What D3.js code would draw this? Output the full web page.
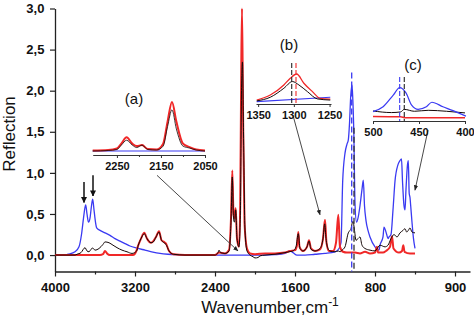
<!DOCTYPE html>
<html><head><meta charset="utf-8">
<script src="https://cdn.jsdelivr.net/npm/d3@7"></script>
<style>
body{margin:0;background:#fff;}
svg{display:block;font-family:"Liberation Sans",Arial,sans-serif;}
</style></head>
<body><svg id="c" width="474" height="321"></svg>
<script>
// ---------- data: main spectra (wavenumber, reflection) ----------
const blueWn  = [4000,3900,3870,3800,3760,3735,3715,3700,3693,3680,3665,3650,3635,3623,3610,3595,3583,3550,3500,3450,3400,3350,3300,3250,3183,3100,3033,2950,2870,2800,2500,2400,2300,2200,2100,2000,1900,1800,1700,1650,1620,1580,1500,1400,1300,1200,1160,1140,1123,1100,1080,1067,1055,1043,1030,1022,1012,1000,985,970,950,930,917,905,890,870,850,800,760,750,720,710,695,683,670,660,640,620,600,570,550,535,525,510,500,490,475,467,458,450,443,430,415,400];
const blueVal = [0,0,0.01,0.04,0.1,0.25,0.45,0.58,0.61,0.5,0.4,0.45,0.6,0.68,0.55,0.4,0.33,0.3,0.27,0.24,0.2,0.17,0.14,0.11,0.085,0.06,0.04,0.02,0.01,0.005,0,0,0,0,0,0,0,0.005,0.02,0.05,0.03,0,0,0.01,0.02,0.04,0.08,0.15,0.9,1.24,1.35,1.4,1.6,1.93,2.07,1.9,1.5,0.63,0.4,0.45,0.6,0.8,0.91,0.6,0.42,0.3,0.22,0.1,0.06,0.12,0.22,0.34,0.3,0.25,0.2,0.22,0.25,0.55,0.9,1.1,1.15,1.17,0.9,0.6,0.55,0.8,1.1,1.15,0.75,0.7,0.6,0.4,0.2,0.08];

const blackWn  = [4000,3800,3780,3740,3700,3680,3660,3640,3623,3600,3560,3520,3500,3460,3420,3380,3330,3280,3230,3183,3167,3140,3107,3080,3040,3017,2990,2960,2935,2910,2890,2860,2817,2700,2400,2370,2360,2345,2300,2260,2240,2227,2215,2205,2193,2180,2160,2145,2135,2125,2115,2100,2080,2050,2020,2000,1970,1950,1900,1800,1700,1660,1620,1590,1567,1550,1520,1480,1460,1440,1400,1350,1320,1303,1290,1270,1250,1200,1167,1150,1130,1100,1067,1050,1040,1030,1020,1005,990,970,950,930,900,850,800,750,700,670,640,610,580,550,520,500,483,467,450,430,400];
const blackVal = [0,0,0.01,0.03,0.09,0.05,0.04,0.07,0.085,0.06,0.08,0.13,0.16,0.15,0.12,0.09,0.06,0.04,0.02,0.05,0.12,0.2,0.26,0.2,0.15,0.16,0.22,0.28,0.18,0.15,0.13,0.05,0.01,0,0,0.03,0.06,0.03,0.02,0.05,0.4,0.95,0.45,0.4,0.55,0.2,0.1,0.6,2.0,2.35,1.5,0.3,0.05,0,-0.02,-0.035,-0.03,-0.01,0,0.01,0.03,0.04,0.05,0.1,0.26,0.08,0.05,0.1,0.17,0.07,0.05,0.08,0.2,0.38,0.2,0.08,0.05,0.04,0.05,0.04,0.06,0.1,0.27,0.3,0.32,0.38,0.41,0.3,0.18,0.2,0.22,0.12,0.08,0.06,0.05,0.12,0.1,0.12,0.2,0.25,0.22,0.27,0.3,0.32,0.28,0.3,0.33,0.28,0.27];

const redWn  = [4000,3550,3520,3500,3480,3450,3220,3190,3167,3140,3107,3080,3040,3017,2990,2960,2935,2910,2890,2860,2817,2700,2400,2360,2300,2260,2240,2227,2215,2205,2193,2180,2160,2148,2138,2130,2120,2105,2080,2050,2000,1900,1800,1700,1650,1600,1580,1567,1555,1520,1480,1460,1440,1400,1350,1320,1300,1285,1260,1220,1190,1167,1150,1120,1080,1000,950,900,850,800,780,770,720,690,650,630,615,560,530,517,505,450,400];
const redVal = [0,0,0.01,0.05,0.02,0,0,0.04,0.12,0.2,0.27,0.2,0.15,0.17,0.22,0.29,0.18,0.16,0.14,0.05,0.01,0,0,0.03,0.02,0.06,0.45,1.03,0.5,0.45,0.57,0.2,0.1,0.6,2.2,3.0,1.8,0.4,0.08,0.02,0.01,0.02,0.02,0.03,0.05,0.06,0.12,0.28,0.1,0.05,0.1,0.18,0.08,0.05,0.07,0.2,0.43,0.15,0.05,0.05,0.15,0.49,0.1,0.04,0.03,0.03,0.02,0.04,0.02,0.03,0.1,0.03,0.03,0.05,0.1,0.23,0.08,0.03,0.05,0.12,0.04,0.02,0.02];

// ---------- inset data (relative intensity) ----------
const insAWn   = [2305,2270,2250,2240,2228,2215,2205,2193,2180,2160,2145,2135,2125,2115,2100,2085,2070,2050];
const insARed  = [0.01,0.02,0.05,0.15,0.28,0.15,0.1,0.12,0.04,0.03,0.15,0.6,1.0,0.6,0.15,0.08,0.03,0.01];
const insABlack= [0,0.01,0.03,0.12,0.22,0.12,0.07,0.12,0.03,0.02,0.1,0.5,0.84,0.45,0.1,0.06,0.02,0];
const insABlue = [0,0,0,0,0,0,0,0,0,0,0,0,0,0,0,0,0,0];

const insBWn    = [1352,1333,1314,1305,1296,1286,1274,1263,1249];
const insBRed   = [0.07,0.25,0.61,0.85,1.0,0.67,0.37,0.13,0.1];
const insBBlkWn = [1352,1333,1314,1302,1293,1281,1267,1249];
const insBBlack = [0.04,0.17,0.49,0.73,0.61,0.37,0.11,0.07];
const insBBlueWn= [1352,1249];
const insBBlue  = [0.01,0.17];

const insCWn    = [500,489,478,471,464,458,451,442,436,424,413,399];
const insCBlue  = [0.26,0.41,0.77,1.0,0.83,0.46,0.33,0.41,0.55,0.41,0.29,0.12];
const insCBlkWn = [500,480,470,466,455,440,420,400];
const insCBlack = [0.28,0.23,0.25,0.33,0.27,0.3,0.27,0.22];
const insCRedWn = [500,470,465,400];
const insCRed   = [0.11,0.1,0.07,0.07];

// ---------- ticks / labels ----------
const xTickVals   = [4000,3200,2400,1600,800,0];
const xTickLabels = ["4000","3200","2400","1600","800","900"];
const xMinorVals  = [3600,2800,2000,1200,400,-400];
const yTickVals   = [0,0.5,1,1.5,2,2.5,3];
const insATicks = [2250,2150,2050], insAMinor=[2200,2100];
const insBTicks = [1350,1300,1250];
const insCTicks = [500,450,400];

// annotations (main data units)
const mainDash = [{wn:1033, top:2.22, color:"blue"}, {wn:1010, top:1.55, color:"black"}];
const downArrows = [{wn:3710, from:0.89, to:0.64},{wn:3620, from:0.97, to:0.72}];
const pointers = [{x1:2980,y1:0.97,x2:2170,y2:0.05},{x1:1620,y1:1.70,x2:1350,y2:0.49},{x1:270,y1:1.52,x2:400,y2:0.79}];

// ---------- drawing ----------
const COL = {blue:"#3a3af2", red:"#f02828", black:"#150808"};
const svg = d3.select("#c");
svg.append("rect").attr("width",474).attr("height",321).attr("fill","#fff");

const x = d3.scaleLinear().domain([4000,-150]).range([55,470]);
const y = d3.scaleLinear().domain([-0.2,3.0]).range([271.5,8.5]);

function zip(a,b){return a.map((v,i)=>[v,b[i]]);}
function drawLine(g, sx, sy, data, color, w, op){
  const line = d3.line().x(d=>sx(d[0])).y(d=>sy(d[1])).curve(d3.curveMonotoneX);
  g.append("path").datum(data).attr("d",line).attr("fill","none")
   .attr("stroke",color).attr("stroke-width",w).attr("stroke-opacity",op||1).attr("stroke-linejoin","round");
}

// axes
const fmt = v => d3.format(".1f")(v).replace(".",",");
const gx = svg.append("g").attr("transform","translate(0,271.5)")
  .call(d3.axisBottom(x).tickValues(xTickVals).tickSize(5).tickSizeOuter(0)
        .tickFormat((d,i)=>xTickLabels[i]));
svg.append("g").attr("transform","translate(0,271.5)")
  .call(d3.axisBottom(x).tickValues(xMinorVals).tickSize(3).tickFormat(""))
  .select(".domain").remove();
const gy = svg.append("g").attr("transform","translate(55,0)")
  .call(d3.axisLeft(y).tickValues(yTickVals).tickSize(5).tickSizeOuter(0).tickFormat(fmt));
svg.selectAll(".domain").attr("stroke","#222").attr("stroke-width",1.3);
svg.selectAll(".tick line").attr("stroke","#222").attr("stroke-width",1.2);
gx.selectAll("text").attr("font-size",13).attr("font-weight","bold").attr("fill","#111")
  .attr("font-family","Liberation Sans, Arial").attr("dy","0.95em");
gy.selectAll("text").attr("font-size",13).attr("font-weight","bold").attr("fill","#111")
  .attr("font-family","Liberation Sans, Arial").attr("dx","-0.2em");

svg.append("text").attr("transform","translate(15,134) rotate(-90)").attr("text-anchor","middle")
  .attr("font-size",17).attr("fill","#111").text("Reflection");
const xt = svg.append("text").attr("x",270).attr("y",313).attr("text-anchor","middle")
  .attr("font-size",17).attr("fill","#111");
xt.append("tspan").text("Wavenumber,cm");
xt.append("tspan").attr("dy",-7).attr("font-size",12).text("-1");

// main spectra
const gm = svg.append("g");
drawLine(gm, x, y, zip(blueWn,blueVal), COL.blue, 1.3);
drawLine(gm, x, y, zip(redWn,redVal), COL.red, 2.0);
drawLine(gm, x, y, zip(blackWn,blackVal), COL.black, 1.0);

// dashed verticals in main
mainDash.forEach(d=>{
  gm.append("line").attr("x1",x(d.wn)).attr("x2",x(d.wn)).attr("y1",y(d.top)).attr("y2",y(-0.2))
   .attr("stroke",d.color==="blue"?COL.blue:"#333").attr("stroke-width",1.3).attr("stroke-dasharray","6,3");
});

// arrow markers
const defs = svg.append("defs");
defs.append("marker").attr("id","ah").attr("viewBox","0 0 10 10").attr("refX",9).attr("refY",5)
  .attr("markerWidth",6).attr("markerHeight",6).attr("orient","auto")
  .append("path").attr("d","M0,1L10,5L0,9z").attr("fill","#222");
defs.append("marker").attr("id","ahb").attr("viewBox","0 0 10 10").attr("refX",9).attr("refY",5)
  .attr("markerWidth",4).attr("markerHeight",4).attr("orient","auto")
  .append("path").attr("d","M0,0L10,5L0,10z").attr("fill","#111");

pointers.forEach(p=>{
  svg.append("line").attr("x1",x(p.x1)).attr("y1",y(p.y1)).attr("x2",x(p.x2)).attr("y2",y(p.y2))
    .attr("stroke","#333").attr("stroke-width",0.9).attr("marker-end","url(#ah)");
});
downArrows.forEach(a=>{
  svg.append("line").attr("x1",x(a.wn)).attr("x2",x(a.wn)).attr("y1",y(a.from)).attr("y2",y(a.to))
    .attr("stroke","#111").attr("stroke-width",1.5).attr("marker-end","url(#ahb)");
});

// ---------- insets ----------
function inset(cfg){
  const g = svg.append("g");
  const sx = d3.scaleLinear().domain(cfg.xd).range(cfg.xr);
  const sy = d3.scaleLinear().domain([0,1]).range(cfg.yr);
  const ax = g.append("g").attr("transform",`translate(0,${cfg.axisY})`)
    .call(d3.axisBottom(sx).tickValues(cfg.ticks).tickSize(3).tickSizeOuter(0).tickFormat(d3.format("d")));
  if(cfg.minor) g.append("g").attr("transform",`translate(0,${cfg.axisY})`)
    .call(d3.axisBottom(sx).tickValues(cfg.minor).tickSize(2).tickFormat("")).select(".domain").remove();
  g.selectAll(".domain").attr("stroke","#333").attr("stroke-width",1.1);
  g.selectAll(".tick line").attr("stroke","#333");
  ax.selectAll("text").attr("font-size",11).attr("font-weight","bold").attr("fill","#111")
    .attr("font-family","Liberation Sans, Arial").attr("dy","0.85em");
  cfg.series.forEach(s=>drawLine(g, sx, sy, s.data, s.color, s.w, s.op));
  (cfg.dash||[]).forEach(d=>{
    g.append("line").attr("x1",sx(d.wn)).attr("x2",sx(d.wn)).attr("y1",d.y1).attr("y2",d.y2)
     .attr("stroke",d.color).attr("stroke-width",1.1).attr("stroke-dasharray","5,2");
  });
  g.append("text").attr("x",cfg.label[0]).attr("y",cfg.label[1]).attr("text-anchor","middle")
    .attr("font-size",15).attr("fill","#111").text(cfg.label[2]);
}

inset({xd:[2305,2050], xr:[92.7,205], yr:[151,102], axisY:155, ticks:insATicks, minor:insAMinor,
  series:[{data:zip(insAWn,insABlue),color:COL.blue,w:1.2},{data:zip(insAWn,insARed),color:COL.red,w:2},{data:zip(insAWn,insABlack),color:COL.black,w:0.9,op:0.9}],
  label:[134,104,"(a)"]});
inset({xd:[1353,1248], xr:[256,331], yr:[102,74], axisY:104, ticks:insBTicks,
  series:[{data:zip(insBBlueWn,insBBlue),color:COL.blue,w:1.2},{data:zip(insBWn,insBRed),color:COL.red,w:1.3},{data:zip(insBBlkWn,insBBlack),color:COL.black,w:1}],
  dash:[{wn:1303,y1:63,y2:104,color:"#222"},{wn:1297,y1:63,y2:104,color:COL.red}],
  label:[289,50,"(b)"]});
inset({xd:[500,400], xr:[373,465], yr:[120,87.7], axisY:121, ticks:insCTicks,
  series:[{data:zip(insCRedWn,insCRed),color:COL.red,w:1.6},{data:zip(insCBlkWn,insCBlack),color:COL.black,w:1},{data:zip(insCWn,insCBlue),color:COL.blue,w:1.2}],
  dash:[{wn:471,y1:77,y2:121,color:COL.blue},{wn:466,y1:77,y2:121,color:"#222"}],
  label:[413,70,"(c)"]});
</script></body></html>
